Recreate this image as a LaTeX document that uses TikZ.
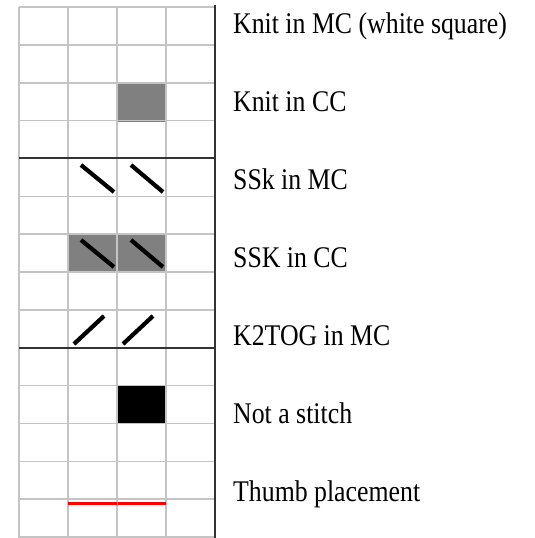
\documentclass[tikz,border=0pt]{standalone}
\usepackage{fontspec}
\setmainfont[FakeStretch=0.86]{Liberation Serif}
\definecolor{gridgray}{HTML}{C4C4C4}
\definecolor{thickline}{HTML}{333333}
\definecolor{ccgray}{HTML}{808080}
\definecolor{thumbred}{HTML}{FF0000}
\tikzset{
  gridline/.style={draw=gridgray, line width=1.6pt},
  sepline/.style={draw=thickline, line width=2pt},
  ccfill/.style={fill=ccgray},
  nsfill/.style={fill=black},
  stitchmark/.style={draw=black, line width=4.2pt, line cap=butt},
  thumbline/.style={draw=thumbred, line width=3pt},
  legendtext/.style={anchor=base west, inner sep=0pt, font=\fontsize{30}{30}\selectfont}
}
\begin{document}
\begin{tikzpicture}[x=1pt, y=-1pt]
\useasboundingbox (0,0) rectangle (535,538);
\fill[white] (0,0) rectangle (535,538);
% filled cells
\fill[ccfill] (117,83.9) rectangle (166,121.6);
\fill[ccfill] (68,234.2) rectangle (166,272);
\fill[nsfill] (117,385.6) rectangle (166,423.4);
% grid
\foreach \i in {0,...,14} {
  \draw[gridline] (19,{7+\i*37.86}) -- (215,{7+\i*37.86});
}
\foreach \x in {19,68,117,166} {
  \draw[gridline] (\x,7) -- (\x,538);
}
% separators
\draw[sepline] (19,158.4) -- (215,158.4);
\draw[sepline] (19,347.7) -- (215,347.7);
\draw[sepline] (215,5) -- (215,538);
% SSK marks
\draw[stitchmark] (81,165) -- (114,192);
\draw[stitchmark] (131,165) -- (163,192);
\draw[stitchmark] (81,240) -- (114,267);
\draw[stitchmark] (131,240) -- (163,267);
% K2TOG marks
\draw[stitchmark] (74,344) -- (104,316);
\draw[stitchmark] (123,344) -- (153,316);
% thumb
\draw[thumbline] (68,503) -- (116.5,503);
\draw[thumbline] (117.5,503) -- (166,503);
% labels
\node[legendtext] (l1) at (233,33) {Knit in MC (white square)};
\node[legendtext] (l2) at (233,111) {Knit in CC};
\node[legendtext] (l3) at (233,189) {SSk in MC};
\node[legendtext] (l4) at (233,267) {SSK in CC};
\node[legendtext] (l5) at (233,345) {K2TOG in MC};
\node[legendtext] (l6) at (233,423) {Not a stitch};
\node[legendtext] (l7) at (233,501) {Thumb placement};
\end{tikzpicture}
\end{document}
